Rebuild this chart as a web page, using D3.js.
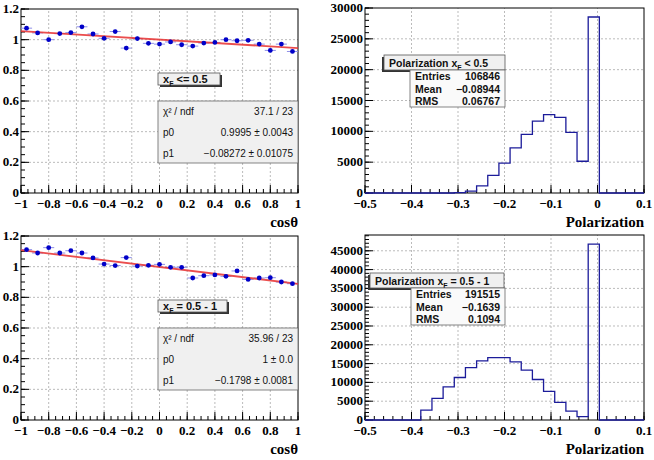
<!DOCTYPE html>
<meta charset="utf-8" />
<title>Polarization fits</title>
<script src="https://d3js.org/d3.v7.min.js"></script>
<style>
  body { margin: 0; background: #fff; }
  svg { display: block; }
</style>
<body>
<div id="chart"></div>
<script>
  // cos(theta) bin centres (25 bins from -1 to 1)
  var cosBins = [-0.96, -0.88, -0.8, -0.72, -0.64, -0.56, -0.48, -0.4, -0.32, -0.24, -0.16, -0.08, 0,
                 0.08, 0.16, 0.24, 0.32, 0.4, 0.48, 0.56, 0.64, 0.72, 0.8, 0.88, 0.96];

  // ratio values, x_F <= 0.5
  var ratioLow = [1.075, 1.044, 1.0, 1.04, 1.046, 1.084, 1.037, 1.009, 1.053, 0.945, 1.007, 0.976, 0.971,
                  0.985, 0.967, 0.958, 0.978, 0.982, 1.0, 0.993, 0.996, 0.971, 0.93, 0.971, 0.923];
  var errLow = [0.012, 0.01, 0.01, 0.01, 0.01, 0.012, 0.01, 0.012, 0.012, 0.015, 0.015, 0.012, 0.012,
                0.012, 0.012, 0.012, 0.01, 0.01, 0.01, 0.01, 0.01, 0.01, 0.01, 0.01, 0.01];
  var fitLow = [1.056, 0.945]; // line at cos = -1 and 1

  // ratio values, x_F = 0.5 - 1
  var ratioHigh = [1.111, 1.089, 1.124, 1.089, 1.104, 1.089, 1.057, 1.017, 1.007, 1.059, 1.004, 1.009, 1.015,
                   0.996, 0.996, 0.926, 0.941, 0.946, 0.937, 0.972, 0.917, 0.926, 0.928, 0.9, 0.889];
  var errHigh = [0.008, 0.008, 0.008, 0.008, 0.008, 0.008, 0.008, 0.008, 0.008, 0.008, 0.008, 0.008, 0.008,
                 0.008, 0.008, 0.008, 0.008, 0.008, 0.008, 0.008, 0.008, 0.008, 0.008, 0.008, 0.008];
  var fitHigh = [1.108, 0.888];

  // polarization histograms: 25 bins from -0.5 to 0.1
  var polEdges = d3.range(26).map(function (i) { return +(-0.5 + i * 0.024).toFixed(3); });
  var polLow = [0, 0, 0, 0, 0, 0, 0, 0, 50, 300, 1140, 2870, 4830, 7320, 9500, 11670, 12700, 12260, 9820,
                5150, 28540, 0, 0, 0, 0];
  var polHigh = [0, 0, 0, 0, 0, 2650, 5740, 8830, 11300, 13950, 15700, 16600, 16600, 15450, 13240, 10770,
                 7590, 4680, 2380, 880, 46780, 0, 0, 0, 0];

  var cosTicks = [-1, -0.8, -0.6, -0.4, -0.2, 0, 0.2, 0.4, 0.6, 0.8, 1];
  var ratioTicks = [0, 0.2, 0.4, 0.6, 0.8, 1, 1.2];
  var polTicks = [-0.5, -0.4, -0.3, -0.2, -0.1, 0, 0.1];
  var countTicksLow = [0, 5000, 10000, 15000, 20000, 25000, 30000];
  var countTicksHigh = [0, 5000, 10000, 15000, 20000, 25000, 30000, 35000, 40000, 45000];

  var fitRowsLow = [["\u03c7\u00b2 / ndf", "37.1 / 23"], ["p0", "0.9995 \u00b1 0.0043"], ["p1", "\u22120.08272 \u00b1 0.01075"]];
  var fitRowsHigh = [["\u03c7\u00b2 / ndf", "35.96 / 23"], ["p0", "1 \u00b1 0.0"], ["p1", "\u22120.1798 \u00b1 0.0081"]];
  var statRowsLow = [["Entries", "106846"], ["Mean", "\u22120.08944"], ["RMS", "0.06767"]];
  var statRowsHigh = [["Entries", "191515"], ["Mean", "\u22120.1639"], ["RMS", "0.1094"]];

  var SERIF = "'Liberation Serif', 'Times New Roman', 'DejaVu Serif', serif";
  var SANS = "'Liberation Sans', Arial, Helvetica, sans-serif";

  var svg = d3.select("#chart").append("svg").attr("width", 654).attr("height", 460);

  var fmt = function (d) { return d3.format("~g")(d).replace("-", "\u2212"); };

  function frame(g, x, y, xTicks, yTicks, xMinor, yMinor, xTitle) {
    var x0 = x.range()[0], x1 = x.range()[1], y0 = y.range()[0], y1 = y.range()[1];
    // dotted grid at inner major ticks
    g.append("g").selectAll("line").data(xTicks.slice(1, -1)).join("line")
      .attr("x1", x).attr("x2", x).attr("y1", y0).attr("y2", y1)
      .attr("stroke", "#bbb").attr("stroke-dasharray", "2,2");
    g.append("g").selectAll("line").data(yTicks.filter(function (d) { return d > y.domain()[0] && d < y.domain()[1]; })).join("line")
      .attr("y1", y).attr("y2", y).attr("x1", x0).attr("x2", x1)
      .attr("stroke", "#bbb").attr("stroke-dasharray", "2,2");
    // minor + major ticks, drawn inside
    var xm = d3.range(x.domain()[0], x.domain()[1] + 1e-9, xMinor);
    var ym = d3.range(y.domain()[0], y.domain()[1] + 1e-9, yMinor);
    g.append("g").selectAll("line").data(xm).join("line")
      .attr("x1", x).attr("x2", x).attr("y1", y0).attr("y2", y0 - 4).attr("stroke", "#000");
    g.append("g").selectAll("line").data(xTicks).join("line")
      .attr("x1", x).attr("x2", x).attr("y1", y0).attr("y2", y0 - 8).attr("stroke", "#000");
    g.append("g").selectAll("line").data(ym).join("line")
      .attr("y1", y).attr("y2", y).attr("x1", x0).attr("x2", x0 + 4).attr("stroke", "#000");
    g.append("g").selectAll("line").data(yTicks).join("line")
      .attr("y1", y).attr("y2", y).attr("x1", x0).attr("x2", x0 + 8).attr("stroke", "#000");
    g.append("rect").attr("x", x0).attr("y", y1).attr("width", x1 - x0).attr("height", y0 - y1)
      .attr("fill", "none").attr("stroke", "#000");
    // labels
    g.append("g").selectAll("text").data(xTicks).join("text")
      .attr("font-family", SERIF).attr("font-weight", "bold").attr("font-size", 13)
      .attr("x", x).attr("y", y0 + 15).attr("text-anchor", "middle")
      .text(fmt);
    g.append("g").selectAll("text").data(yTicks).join("text")
      .attr("font-family", SERIF).attr("font-weight", "bold").attr("font-size", 13)
      .attr("x", x0 - 2).attr("y", function (d) { return y(d) + 4; })
      .attr("text-anchor", "end").text(fmt);
    g.append("text").attr("font-family", SERIF).attr("font-weight", "bold").attr("font-size", 15)
      .attr("x", x1).attr("y", y0 + 34)
      .attr("text-anchor", "end").text(xTitle);
  }

  function labelBox(g, bx, by, w, h, parts, shadowLeft, fs) {
    g.append("rect").attr("x", shadowLeft ? bx - 2 : bx + 2).attr("y", by + 2).attr("width", w).attr("height", h).attr("fill", "#333");
    g.append("rect").attr("x", bx).attr("y", by).attr("width", w).attr("height", h)
      .attr("fill", "#f0f0f0").attr("stroke", "#555").attr("stroke-width", 0.8);
    var t = g.append("text").attr("font-family", SANS).attr("fill", "#111")
      .attr("x", bx + 5).attr("y", by + h / 2 + 4)
      .attr("font-size", fs).attr("font-weight", "bold");
    t.append("tspan").text(parts[0]);
    t.append("tspan").text("F").attr("dy", 3).attr("font-size", 7);
    t.append("tspan").text(parts[1]).attr("dy", -3);
  }

  function rowBox(g, bx, by, w, h, rows, fill, bold, fs) {
    g.append("rect").attr("x", bx).attr("y", by).attr("width", w).attr("height", h)
      .attr("fill", fill).attr("stroke", "#666").attr("stroke-width", 0.8);
    var step = h / rows.length;
    rows.forEach(function (r, i) {
      var yy = by + step * (i + 0.5) + 4;
      g.append("text").attr("font-family", SANS).attr("fill", "#111").attr("x", bx + 5).attr("y", yy)
        .attr("font-weight", bold).attr("font-size", fs).text(r[0]);
      g.append("text").attr("font-family", SANS).attr("fill", "#111").attr("x", bx + w - 5).attr("y", yy)
        .attr("text-anchor", "end").attr("font-weight", bold).attr("font-size", fs).text(r[1]);
    });
  }

  function ratioPanel(top, vals, errs, fit, title, rows) {
    var g = svg.append("g");
    var x = d3.scaleLinear().domain([-1, 1]).range([21, 298]);
    var y = d3.scaleLinear().domain([0, 1.2]).range([top + 184, top]);
    frame(g, x, y, cosTicks, ratioTicks, 0.05, 0.05, "cos\u03b8");
    var pts = cosBins.map(function (c, i) { return { c: c, v: vals[i], e: errs[i] }; });
    g.append("g").selectAll("line").data(pts).join("line")
      .attr("x1", function (d) { return x(d.c - 0.04); }).attr("x2", function (d) { return x(d.c + 0.04); })
      .attr("y1", function (d) { return y(d.v); }).attr("y2", function (d) { return y(d.v); })
      .attr("stroke", "#8f8fe8").attr("stroke-width", 1);
    g.append("g").selectAll("line").data(pts).join("line")
      .attr("x1", function (d) { return x(d.c); }).attr("x2", function (d) { return x(d.c); })
      .attr("y1", function (d) { return y(d.v - d.e); }).attr("y2", function (d) { return y(d.v + d.e); })
      .attr("stroke", "#8f8fe8").attr("stroke-width", 1);
    g.append("line").attr("x1", x(-1)).attr("x2", x(1)).attr("y1", y(fit[0])).attr("y2", y(fit[1]))
      .attr("stroke", "#e83030").attr("stroke-width", 1.8).attr("opacity", 0.85);
    g.append("g").selectAll("circle").data(pts).join("circle")
      .attr("cx", function (d) { return x(d.c); }).attr("cy", function (d) { return y(d.v); })
      .attr("r", 2.4).attr("fill", "#0000c8");
    labelBox(g, 158, top + 64, title[2], 12, title, false, 11);
    rowBox(g, 158, top + 92, 140, 62, rows, "#f0f0f0", "normal", 10);
  }

  function histPanel(top, counts, ymax, yTicks, title, rows) {
    var g = svg.append("g");
    var x = d3.scaleLinear().domain([-0.5, 0.1]).range([365, 644]);
    var y = d3.scaleLinear().domain([0, ymax]).range([top + 185, top]);
    frame(g, x, y, polTicks, yTicks, 0.02, 1000, "Polarization");
    var pts = [[x(polEdges[0]), y(0)]];
    counts.forEach(function (c, i) {
      pts.push([x(polEdges[i]), y(c)]);
      pts.push([x(polEdges[i + 1]), y(c)]);
    });
    pts.push([x(polEdges[polEdges.length - 1]), y(0)]);
    g.append("path").attr("d", d3.line()(pts)).attr("fill", "none")
      .attr("stroke", "#1c1c9a").attr("stroke-width", 1.3);
    labelBox(g, title[3], top + title[4], title[2], 15, title, true, 10.5);
    rowBox(g, title[3] + title[5], top + title[4] + 15, 505 - title[3] - title[5], 37, rows, "#fafafa", "bold", 10.5);
  }

  ratioPanel(9, ratioLow, errLow, fitLow, ["x", " <= 0.5", 62], fitRowsLow);
  ratioPanel(236, ratioHigh, errHigh, fitHigh, ["x", " = 0.5 - 1", 69], fitRowsHigh);
  histPanel(8, polLow, 30000, countTicksLow, ["Polarization x", " < 0.5", 121, 384, 47, 26], statRowsLow);
  histPanel(235, polHigh, 49200, countTicksHigh, ["Polarization x", " = 0.5 - 1", 134, 370, 38, 41], statRowsHigh);
</script>
</body>
